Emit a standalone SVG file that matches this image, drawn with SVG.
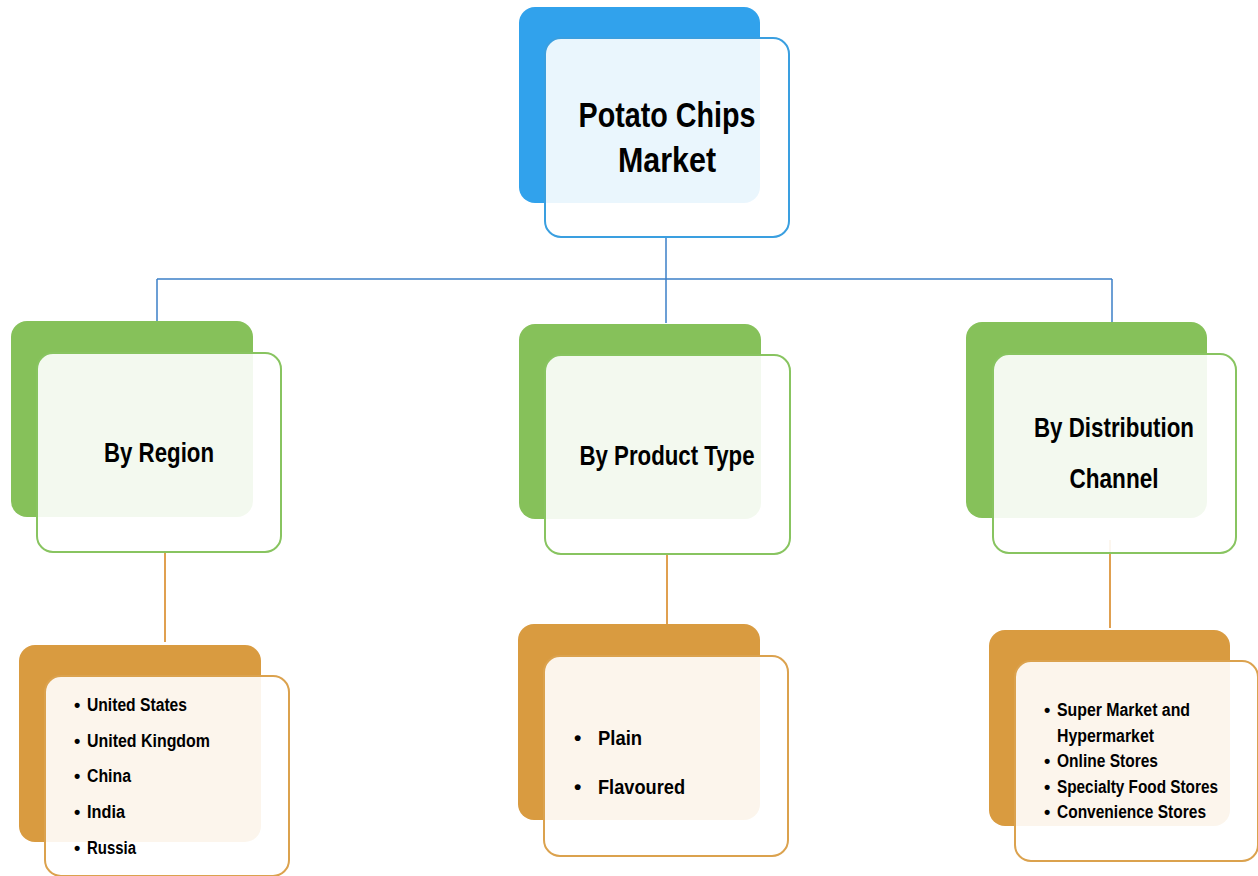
<svg xmlns="http://www.w3.org/2000/svg" width="1258" height="876" viewBox="0 0 1258 876">
<style>
.t{font-family:"Liberation Sans",Arial,sans-serif;font-weight:bold;fill:#000;}
.h{font-size:35px;}
.m{font-size:28px;}
.l{font-size:18px;}
.p{font-size:21px;}
.fr{fill:#ffffff;fill-opacity:0.9;stroke-width:2;}
.bb{fill:#31A2EC;}
.bf{stroke:#3A9FE0;}
.gb{fill:#86C15A;}
.gf{stroke:#88C460;}
.ob{fill:#D99B40;}
.of{stroke:#DBA24E;}
.cb{fill:none;stroke:#3D80C8;stroke-width:1.5;}
.co{fill:none;stroke:#E0A050;stroke-width:2;}
</style>
<rect width="1258" height="876" fill="#fff"/>
<g id="connectors">
<path class="cb" d="M666 237V279M157 279H1112M157 279V321M666 279V323M1112 279V322"/>
<path class="co" d="M165 553V642M667 554V625M1110 540V628"/>
</g>
<g id="root">
<rect class="bb" x="519" y="7" width="241" height="196" rx="16"/>
<rect class="fr bf" x="545" y="38" width="244" height="199" rx="16"/>
<text class="t h" x="667" y="127" text-anchor="middle" textLength="177" lengthAdjust="spacingAndGlyphs">Potato Chips</text>
<text class="t h" x="667" y="172" text-anchor="middle" textLength="98" lengthAdjust="spacingAndGlyphs">Market</text>
</g>
<g id="region">
<rect class="gb" x="11" y="321" width="242" height="196" rx="16"/>
<rect class="fr gf" x="37" y="353" width="244" height="199" rx="16"/>
<text class="t m" x="159" y="462" text-anchor="middle" textLength="110" lengthAdjust="spacingAndGlyphs">By Region</text>
</g>
<g id="product">
<rect class="gb" x="519" y="324" width="242" height="195" rx="16"/>
<rect class="fr gf" x="545" y="355" width="245" height="199" rx="16"/>
<text class="t m" x="667" y="465" text-anchor="middle" textLength="175" lengthAdjust="spacingAndGlyphs">By Product Type</text>
</g>
<g id="distribution">
<rect class="gb" x="966" y="322" width="241" height="196" rx="16"/>
<rect class="fr gf" x="993" y="354" width="243" height="199" rx="16"/>
<text class="t m" x="1114" y="437" text-anchor="middle" textLength="160" lengthAdjust="spacingAndGlyphs">By Distribution</text>
<text class="t m" x="1114" y="488" text-anchor="middle" textLength="89" lengthAdjust="spacingAndGlyphs">Channel</text>
</g>
<g id="region-list">
<rect class="ob" x="19" y="645" width="242" height="197" rx="16"/>
<rect class="fr of" x="45" y="676" width="244" height="200" rx="16"/>
<g class="t l">
<text x="74" y="711">•</text><text x="87" y="711" textLength="100" lengthAdjust="spacingAndGlyphs">United States</text>
<text x="74" y="747">•</text><text x="87" y="747" textLength="123" lengthAdjust="spacingAndGlyphs">United Kingdom</text>
<text x="74" y="782">•</text><text x="87" y="782" textLength="44" lengthAdjust="spacingAndGlyphs">China</text>
<text x="74" y="818">•</text><text x="87" y="818" textLength="38" lengthAdjust="spacingAndGlyphs">India</text>
<text x="74" y="854">•</text><text x="87" y="854" textLength="49" lengthAdjust="spacingAndGlyphs">Russia</text>
</g>
</g>
<g id="product-list">
<rect class="ob" x="518" y="624" width="242" height="196" rx="16"/>
<rect class="fr of" x="544" y="656" width="244" height="200" rx="16"/>
<g class="t p">
<text x="574" y="745">•</text><text x="598" y="745" textLength="44" lengthAdjust="spacingAndGlyphs">Plain</text>
<text x="574" y="794">•</text><text x="598" y="794" textLength="87" lengthAdjust="spacingAndGlyphs">Flavoured</text>
</g>
</g>
<g id="distribution-list">
<rect class="ob" x="989" y="630" width="241" height="196" rx="16"/>
<rect class="fr of" x="1015" y="661" width="243" height="200" rx="16"/>
<g class="t l">
<text x="1044" y="716">•</text><text x="1057" y="716" textLength="133" lengthAdjust="spacingAndGlyphs">Super Market and</text>
<text x="1057" y="742" textLength="97" lengthAdjust="spacingAndGlyphs">Hypermarket</text>
<text x="1044" y="767">•</text><text x="1057" y="767" textLength="101" lengthAdjust="spacingAndGlyphs">Online Stores</text>
<text x="1044" y="793">•</text><text x="1057" y="793" textLength="161" lengthAdjust="spacingAndGlyphs">Specialty Food Stores</text>
<text x="1044" y="818">•</text><text x="1057" y="818" textLength="149" lengthAdjust="spacingAndGlyphs">Convenience Stores</text>
</g>
</g>
</svg>
